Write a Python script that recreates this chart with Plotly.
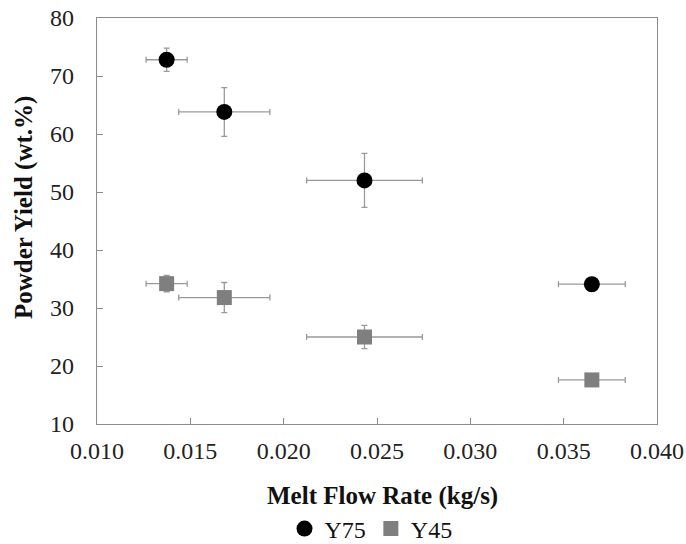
import plotly.graph_objects as go

flow = [0.01373, 0.01682, 0.02433, 0.03651]
flow_err = [0.0011, 0.00244, 0.0031, 0.00179]
y75 = [72.8, 63.8, 52.0, 34.1]
y75_err = [2.0, 4.2, 4.65, 0.0]
y45 = [34.2, 31.8, 25.0, 17.6]
y45_err = [1.4, 2.6, 2.0, 0.0]

font = "Liberation Serif"
ebar = dict(type="data", visible=True, color="#9a9a9a", thickness=1.3, width=3)

fig = go.Figure()
fig.add_trace(go.Scatter(
    x=flow, y=y75, mode="markers", name="Y75",
    marker=dict(symbol="circle", size=16, color="black"),
    error_x=dict(array=flow_err, **ebar),
    error_y=dict(array=y75_err, **ebar),
))
fig.add_trace(go.Scatter(
    x=flow, y=y45, mode="markers", name="Y45",
    marker=dict(symbol="square", size=15, color="#7f7f7f"),
    error_x=dict(array=flow_err, **ebar),
    error_y=dict(array=y45_err, **ebar),
))

axis_common = dict(
    showline=True, linecolor="#8c8c8c", linewidth=1.3, mirror=True,
    ticks="inside", ticklen=6, tickcolor="#8c8c8c", tickwidth=1,
    showgrid=False, zeroline=False, automargin=False,
    tickfont=dict(family=font, size=24, color="#222"),
)
fig.update_xaxes(range=[0.010, 0.040], tick0=0.010, dtick=0.005, tickformat=".3f",
                 ticklabelstandoff=5, **axis_common)
fig.update_yaxes(range=[10, 80], tick0=10, dtick=10, ticklabelstandoff=17, **axis_common)

fig.add_annotation(text="<b>Melt Flow Rate (kg/s)</b>", xref="paper", yref="paper",
                   x=(382 - 97) / 560, y=-(496 - 424) / 406, showarrow=False,
                   xanchor="center", yanchor="middle",
                   font=dict(family=font, size=25, color="#111"))
fig.add_annotation(text="<b>Powder Yield (wt.%)</b>", xref="paper", yref="paper",
                   x=-(97 - 24) / 560, y=(424 - 208) / 406, showarrow=False, textangle=-90,
                   xanchor="center", yanchor="middle",
                   font=dict(family=font, size=25, color="#111"))

fig.update_layout(
    width=686, height=544,
    font=dict(family=font, size=24, color="#111"),
    margin=dict(l=97, r=29, t=18, b=120, autoexpand=False),
    paper_bgcolor="white", plot_bgcolor="white",
    showlegend=True,
    legend=dict(orientation="h", x=(371 - 97) / 560, xanchor="center",
                y=-(529 - 424) / 406, yanchor="middle",
                font=dict(family=font, size=24, color="#111"),
                itemwidth=30, tracegroupgap=0, itemclick=False),
)

fig.write_html("out.html")
